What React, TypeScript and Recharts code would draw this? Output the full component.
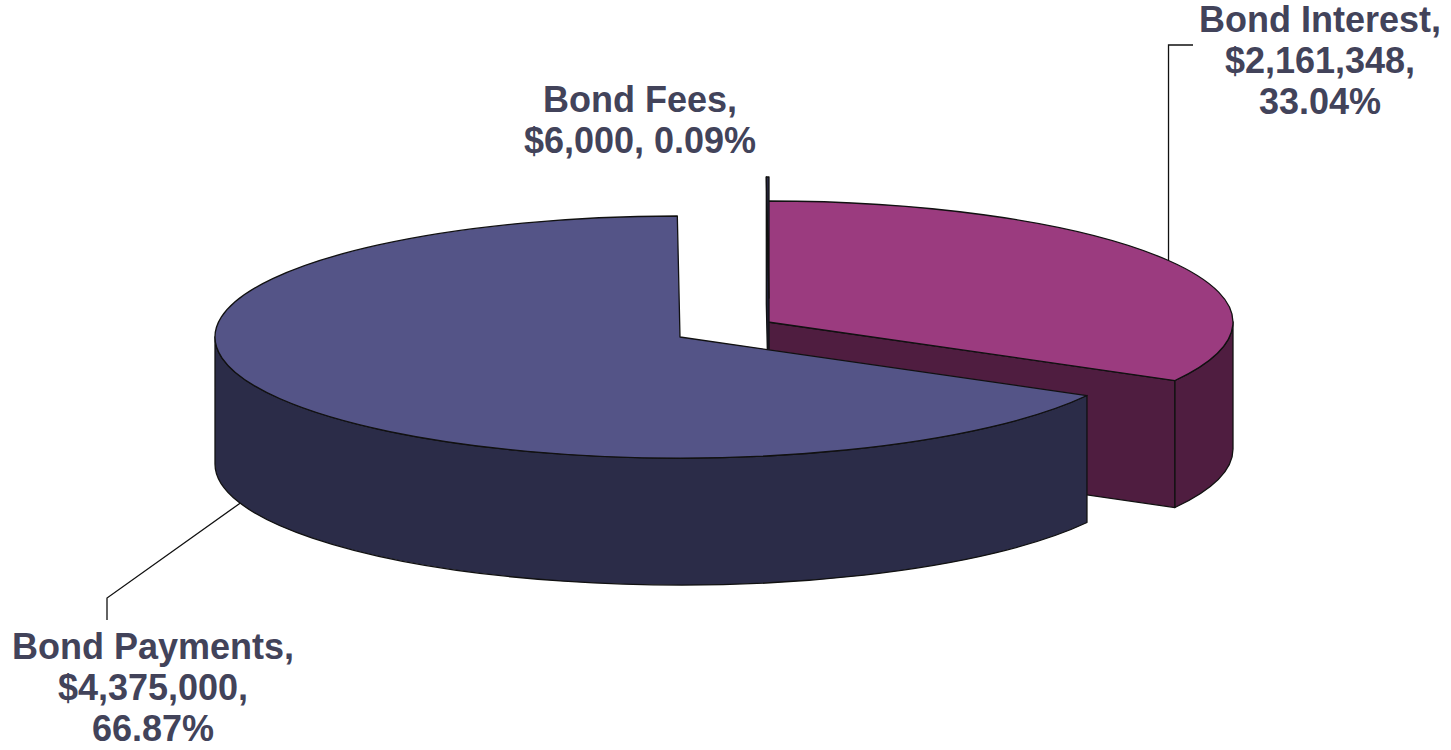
import { PieChart, Pie } from 'recharts';

const categories = ['Bond Interest', 'Bond Payments', 'Bond Fees'];
const amounts = [2161348, 4375000, 6000];

const data = categories.map((name, i) => ({ name, value: amounts[i] }));
const total = amounts.reduce((a, b) => a + b, 0);

// pie geometry (page pixels)
const CX = 680;
const CY = 337;
const RX = 465;
const TILT = 121 / 465;
const DEPTH = 127;

const TOP_COLOR: Record<string, string> = {
  'Bond Interest': '#9b3b7f',
  'Bond Payments': '#545487',
  'Bond Fees': '#2b2c48',
};
const SIDE_COLOR: Record<string, string> = {
  'Bond Interest': '#4f1d40',
  'Bond Payments': '#2b2c48',
  'Bond Fees': '#1e1f35',
};
// exploded slices
const OFFSET: Record<string, [number, number]> = {
  'Bond Interest': [88, -15],
  'Bond Fees': [89, -39],
};

const TEXT_COLOR = '#42435a';
const FONT = '"Liberation Sans", Arial, sans-serif';
const LINE_H = 41;

type LabelLayout = {
  x: number;
  y: number;
  lines: (name: string, value: number, pct: string) => string[];
  leader?: 'top' | 'bottom';
  shift?: number;
  path?: (ax: number, ay: number) => string;
};

const LABELS: Record<string, LabelLayout> = {
  'Bond Interest': {
    x: 1320,
    y: 32,
    lines: (n, v, p) => [`${n},`, `$${v.toLocaleString('en-US')},`, p],
    leader: 'top',
    path: (ax, ay) => `M ${ax} ${ay} L ${ax} 45 L 1193 45`,
  },
  'Bond Fees': {
    x: 640,
    y: 112,
    lines: (n, v, p) => [`${n},`, `$${v.toLocaleString('en-US')}, ${p}`],
  },
  'Bond Payments': {
    x: 153,
    y: 659,
    lines: (n, v, p) => [`${n},`, `$${v.toLocaleString('en-US')},`, p],
    leader: 'bottom',
    shift: -11.8,
    path: (ax, ay) => `M ${ax} ${ay} L 107 598 L 107 620`,
  },
};

const rad = (a: number) => (a * Math.PI) / 180;

function renderSlice(props: any, only: string) {
  const { cx, cy, outerRadius: r, startAngle, endAngle, name } = props;
  if (name !== only) return <g />;
  const [ox, oy] = OFFSET[name] ?? [0, 0];
  const x0 = cx + ox;
  const y0 = cy + oy;
  const ry = r * TILT;
  const P = (a: number, dz = 0) =>
    `${x0 + r * Math.cos(rad(a))} ${y0 - ry * Math.sin(rad(a)) + dz}`;
  const lo = Math.min(startAngle, endAngle);
  const hi = Math.max(startAngle, endAngle);
  const large = hi - lo > 180 ? 1 : 0;

  const faces: string[] = [];
  if (Math.cos(rad(lo)) > 1e-6) faces.push(`M ${x0} ${y0} L ${P(lo)} L ${P(lo, DEPTH)} L ${x0} ${y0 + DEPTH} Z`);
  if (Math.cos(rad(hi)) < -1e-6) faces.push(`M ${x0} ${y0} L ${P(hi)} L ${P(hi, DEPTH)} L ${x0} ${y0 + DEPTH} Z`);

  const sides: string[] = [];
  for (let n = -2; n <= 2; n++) {
    const s = Math.max(lo, 180 + 360 * n);
    const e = Math.min(hi, 360 + 360 * n);
    if (e > s) {
      sides.push(
        `M ${P(s)} A ${r} ${ry} 0 0 0 ${P(e)} L ${P(e, DEPTH)} A ${r} ${ry} 0 0 1 ${P(s, DEPTH)} Z`
      );
    }
  }
  const top = `M ${x0} ${y0} L ${P(lo)} A ${r} ${ry} 0 ${large} 0 ${P(hi)} Z`;
  const stroke = { stroke: '#111', strokeWidth: 1.3, strokeLinejoin: 'round' as const };

  return (
    <g>
      {faces.map((d, i) => (
        <path key={`f${i}`} d={d} fill={SIDE_COLOR[name]} {...stroke} />
      ))}
      {sides.map((d, i) => (
        <path key={`s${i}`} d={d} fill={SIDE_COLOR[name]} {...stroke} />
      ))}
      <path d={top} fill={TOP_COLOR[name]} {...stroke} />
    </g>
  );
}

function renderLabel(props: any) {
  const { cx, cy, outerRadius: r, midAngle, name, value } = props;
  const layout = LABELS[name];
  if (!layout) return <g />;
  const pct = `${((value / total) * 100).toFixed(2)}%`;
  const [ox, oy] = OFFSET[name] ?? [0, 0];
  const a = rad(midAngle + (layout.shift ?? 0));
  const ax = cx + ox + r * Math.cos(a);
  const ay = cy + oy - r * TILT * Math.sin(a) + (layout.leader === 'bottom' ? DEPTH : 0);
  return (
    <g>
      {layout.leader && layout.path && (
        <path d={layout.path(ax, ay)} fill="none" stroke="#111" strokeWidth={1.3} />
      )}
      {layout.lines(name, value, pct).map((t, i) => (
        <text
          key={i}
          x={layout.x}
          y={layout.y + i * LINE_H}
          textAnchor="middle"
          fill={TEXT_COLOR}
          fontFamily={FONT}
          fontWeight="bold"
          fontSize={36}
        >
          {t}
        </text>
      ))}
    </g>
  );
}

const LAYERS = ['Bond Interest', 'Bond Fees', 'Bond Payments'];

export default function App() {
  return (
    <div style={{ position: 'absolute', left: 0, top: 0, background: '#fff' }}>
      <PieChart width={1451} height={750} margin={{ top: 0, right: 0, bottom: 0, left: 0 }}>
        {LAYERS.map((only) => (
          <Pie
            key={only}
            data={data}
            dataKey="value"
            nameKey="name"
            cx={CX}
            cy={CY}
            outerRadius={RX}
            startAngle={90}
            endAngle={-270}
            fill="none"
            stroke="none"
            labelLine={false}
            label={(p: any) => renderSlice(p, only)}
            isAnimationActive={false}
          />
        ))}
        <Pie
          data={data}
          dataKey="value"
          nameKey="name"
          cx={CX}
          cy={CY}
          outerRadius={RX}
          startAngle={90}
          endAngle={-270}
          fill="none"
          stroke="none"
          labelLine={false}
          label={renderLabel}
          isAnimationActive={false}
        />
      </PieChart>
    </div>
  );
}
